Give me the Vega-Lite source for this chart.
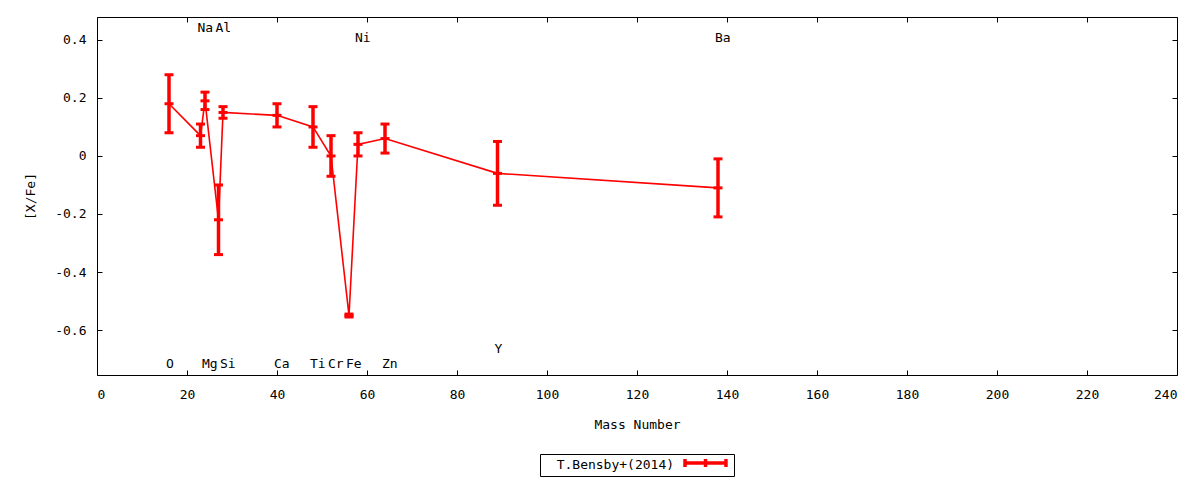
{
  "$schema": "https://vega.github.io/schema/vega-lite/v6.json",
  "width": 1080,
  "height": 358,
  "autosize": "none",
  "padding": {"left": 97, "top": 17, "right": 23, "bottom": 105},
  "config": {
    "font": "DejaVu Sans Mono",
    "view": {"stroke": "black", "strokeWidth": 1},
    "axis": {
      "grid": false,
      "domain": false,
      "tickColor": "black",
      "tickSize": -5,
      "labelFont": "DejaVu Sans Mono",
      "labelFontSize": 13,
      "labelColor": "black",
      "titleFont": "DejaVu Sans Mono",
      "titleFontSize": 13,
      "titleFontWeight": "normal",
      "titleColor": "black"
    }
  },
  "datasets": {
    "abund": [
      {"element": "O", "mass": 16, "val": 0.18, "lo": 0.08, "hi": 0.28},
      {"element": "Na", "mass": 23, "val": 0.07, "lo": 0.03, "hi": 0.11},
      {"element": "Mg", "mass": 24, "val": 0.19, "lo": 0.16, "hi": 0.22},
      {"element": "Al", "mass": 27, "val": -0.22, "lo": -0.34, "hi": -0.10},
      {"element": "Si", "mass": 28, "val": 0.15, "lo": 0.13, "hi": 0.17},
      {"element": "Ca", "mass": 40, "val": 0.14, "lo": 0.10, "hi": 0.18},
      {"element": "Ti", "mass": 48, "val": 0.10, "lo": 0.03, "hi": 0.17},
      {"element": "Cr", "mass": 52, "val": 0.00, "lo": -0.07, "hi": 0.07},
      {"element": "Fe", "mass": 56, "val": -0.55, "lo": -0.555, "hi": -0.545},
      {"element": "Ni", "mass": 58, "val": 0.04, "lo": 0.00, "hi": 0.08},
      {"element": "Zn", "mass": 64, "val": 0.06, "lo": 0.01, "hi": 0.11},
      {"element": "Y", "mass": 89, "val": -0.06, "lo": -0.17, "hi": 0.05},
      {"element": "Ba", "mass": 138, "val": -0.11, "lo": -0.21, "hi": -0.01}
    ],
    "labels": [
      {"element": "O", "mass": 16, "ly": -0.717},
      {"element": "Na", "mass": 23, "ly": 0.441},
      {"element": "Mg", "mass": 24, "ly": -0.717},
      {"element": "Al", "mass": 27, "ly": 0.441},
      {"element": "Si", "mass": 28, "ly": -0.717},
      {"element": "Ca", "mass": 40, "ly": -0.717},
      {"element": "Ti", "mass": 48, "ly": -0.717},
      {"element": "Cr", "mass": 52, "ly": -0.717},
      {"element": "Fe", "mass": 56, "ly": -0.717},
      {"element": "Ni", "mass": 58, "ly": 0.407},
      {"element": "Zn", "mass": 64, "ly": -0.717},
      {"element": "Y", "mass": 89, "ly": -0.666},
      {"element": "Ba", "mass": 138, "ly": 0.407}
    ]
  },
  "resolve": {"axis": {"x": "independent", "y": "independent"}},
  "layer": [
    {
      "data": {"name": "abund"},
      "mark": {"type": "line", "strokeWidth": 1.6},
      "encoding": {
        "x": {
          "field": "mass", "type": "quantitative",
          "scale": {"domain": [0, 240], "nice": false},
          "axis": {"title": "Mass Number", "values": [0, 20, 40, 60, 80, 100, 120, 140, 160, 180, 200, 220, 240], "labelPadding": 18, "titlePadding": 17}
        },
        "y": {
          "field": "val", "type": "quantitative",
          "scale": {"domain": [-0.755, 0.479], "nice": false, "zero": false},
          "axis": {"title": "[X/Fe]", "values": [-0.6, -0.4, -0.2, 0, 0.2, 0.4], "labelPadding": 16, "titlePadding": 17,
            "labelExpr": "datum.value == 0 ? '0' : (datum.value < 0 ? '-' : '') + format(abs(datum.value), '.1f')"}
        },
        "color": {
          "datum": "T.Bensby+(2014)",
          "scale": {"range": ["#ff0000"]},
          "legend": {
            "orient": "none", "legendX": 443, "legendY": 437,
            "title": "\u200b\u00a0\u00a0T.Bensby+(2014)", "titleOrient": "left", "titleFontSize": 13, "titleFontWeight": "normal",
            "titleColor": "black", "titlePadding": 8, "titleFont": "DejaVu Sans Mono",
            "labelExpr": "''", "labelOffset": 0, "labelFontSize": 1,
            "symbolType": "M-1,0H5.83M-1,-0.67V0.67M5.83,-0.67V0.67M2.42,-0.67V0.67",
            "symbolSize": 144, "symbolStrokeWidth": 3.5, "symbolStrokeColor": "#ff0000",
            "strokeColor": "black", "padding": 1, "fillColor": "white"
          }
        }
      }
    },
    {
      "data": {"name": "abund"},
      "mark": {"type": "rule", "color": "#ff0000", "strokeWidth": 3.5},
      "encoding": {
        "x": {"field": "mass", "type": "quantitative", "axis": null},
        "y": {"field": "lo", "type": "quantitative", "axis": null},
        "y2": {"field": "hi"}
      }
    },
    {
      "data": {"name": "abund"},
      "transform": [{"fold": ["lo", "hi", "val"], "as": ["kind", "yv"]}],
      "mark": {"type": "tick", "orient": "horizontal", "color": "#ff0000", "size": 9, "thickness": 3, "opacity": 1},
      "encoding": {
        "x": {"field": "mass", "type": "quantitative", "axis": null},
        "y": {"field": "yv", "type": "quantitative", "axis": null}
      }
    },
    {
      "data": {"name": "labels"},
      "mark": {"type": "text", "align": "left", "baseline": "middle", "dx": -3, "fontSize": 13, "font": "DejaVu Sans Mono", "color": "black"},
      "encoding": {
        "x": {"field": "mass", "type": "quantitative", "axis": null},
        "y": {"field": "ly", "type": "quantitative", "axis": null},
        "text": {"field": "element"}
      }
    },
    {
      "data": {"values": [{"m": 0, "v": 0}]},
      "mark": {"type": "point", "opacity": 0},
      "encoding": {
        "x": {"field": "m", "type": "quantitative", "axis": {"orient": "top", "labels": false, "title": null, "values": [0, 20, 40, 60, 80, 100, 120, 140, 160, 180, 200, 220, 240]}},
        "y": {"field": "v", "type": "quantitative", "axis": {"orient": "right", "labels": false, "title": null, "values": [-0.6, -0.4, -0.2, 0, 0.2, 0.4]}}
      }
    }
  ]
}
